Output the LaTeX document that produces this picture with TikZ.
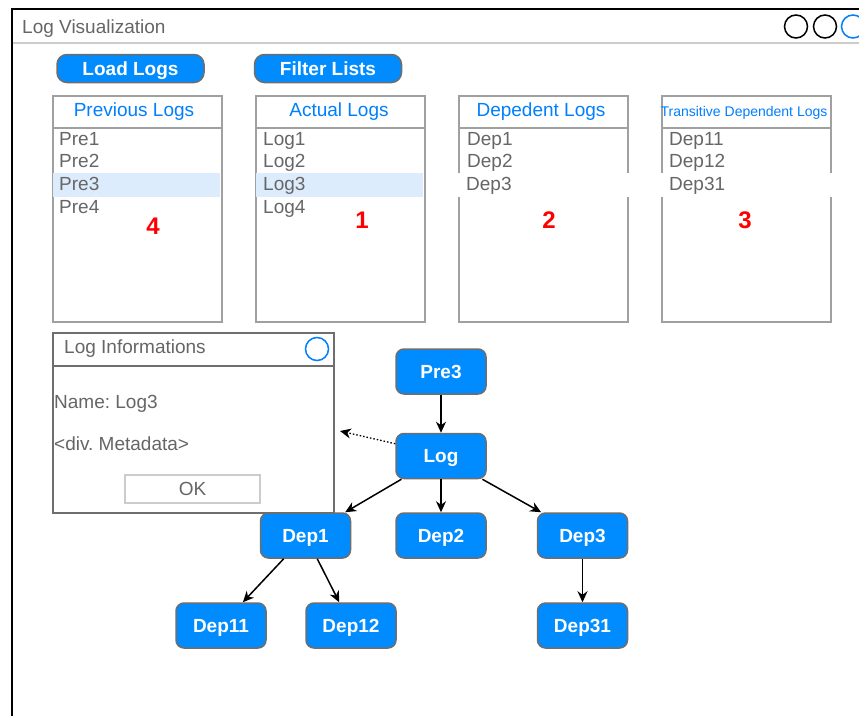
\documentclass[tikz,border=0pt]{standalone}
\usepackage{fontspec}
\setmainfont{Liberation Sans}
\usetikzlibrary{arrows.meta,calc}
\definecolor{nodeblue}{RGB}{0,140,255}
\definecolor{txtblue}{RGB}{0,127,255}
\definecolor{txtgray}{RGB}{102,102,102}
\definecolor{listgray}{RGB}{160,160,160}
\definecolor{dlggray}{RGB}{110,110,110}
\definecolor{hlblue}{RGB}{221,236,252}
\definecolor{sepgray}{RGB}{204,204,204}
\definecolor{numred}{RGB}{255,0,0}
\frenchspacing
\begin{document}
\begin{tikzpicture}[x=1pt,y=-1pt,
  txt/.style={inner sep=0pt, text height=13.6pt, text depth=0pt, text=txtgray, font=\fontsize{19}{22}\selectfont},
  btn/.style={draw=dlggray, line width=1.5pt, fill=nodeblue, rounded corners=10pt, text=white,
    font=\fontsize{19}{22}\selectfont\bfseries, minimum width=147pt, minimum height=28pt, inner sep=0pt,
    text height=13.6pt, text depth=0pt},
  listbox/.style={draw=listgray, line width=2pt, minimum width=169pt, minimum height=226pt, inner sep=0pt, anchor=north west},
  listhead/.style={inner sep=0pt, text height=13.6pt, text depth=0pt, text=txtblue, font=\fontsize{19}{22}\selectfont},
  num/.style={inner sep=0pt, text height=17pt, text depth=0pt, text=numred, font=\fontsize{24}{27}\selectfont\bfseries},
  gnode/.style={rectangle, rounded corners=8pt, draw=dlggray, line width=1.5pt, fill=nodeblue, text=white,
    font=\fontsize{19}{22}\selectfont\bfseries, minimum width=90pt, minimum height=45pt, inner sep=0pt,
    text height=13.6pt, text depth=0pt},
  conn/.style={line width=1.5pt, -{Stealth[length=11pt,width=10pt,inset=3.5pt]}},
  wincirc/.style={circle, draw, line width=1.5pt, minimum size=23pt, inner sep=0pt}
]
\useasboundingbox (0,0) rectangle (859,715);
\fill[white] (0,0) rectangle (859,715);

% window frame
\draw[black, line width=2pt] (861,9) -- (12,9) -- (12,717);
\draw[sepgray, line width=2pt] (13,43) -- (861,43);
\node[txt, anchor=west] (title) at (22,27) {Log Visualization};
\node[wincirc, draw=black] (c1) at (796,26.5) {};
\node[wincirc, draw=black] (c2) at (825,26.5) {};
\node[wincirc, draw=txtblue] (c3) at (853,26.5) {};

% buttons
\node[btn] (load) at (130.5,68.5) {Load Logs};
\node[btn] (filter) at (328,68.5) {Filter Lists};

% lists
\node[listbox] (prev) at (52,95) {};
\node[listbox] (act) at (255,95) {};
\node[listbox] (dep) at (458,95) {};
\node[listbox] (tra) at (661,95) {};
\foreach \n in {prev,act,dep,tra}{
  \draw[listgray, line width=2pt] ($(\n.north west)+(0,33)$) -- ($(\n.north east)+(0,33)$);
}
% highlighted rows
\fill[hlblue] (53,173) rectangle (220,196.5);
\fill[hlblue] (256,173) rectangle (423,196.5);
\fill[white] (456,173) rectangle (630,196.5);
\fill[white] (659,173) rectangle (833,196.5);

\node[listhead] (prevh) at (134,110) {Previous Logs};
\node[listhead] (acth) at (339,110) {Actual Logs};
\node[listhead] (deph) at (541,110) {Depedent Logs};
\node[listhead, text height=10pt, font=\fontsize{14}{16}\selectfont] (trah) at (744,111.5) {Transitive Dependent Logs};

\node[txt, anchor=west] (p1) at (59,139) {Pre1};
\node[txt, anchor=west] (p2) at (59,160.3) {Pre2};
\node[txt, anchor=west] (p3) at (59,183.7) {Pre3};
\node[txt, anchor=west] (p4) at (59,206.3) {Pre4};

\node[txt, anchor=west] (l1) at (263,139) {Log1};
\node[txt, anchor=west] (l2) at (263,160.3) {Log2};
\node[txt, anchor=west] (l3) at (263,183.7) {Log3};
\node[txt, anchor=west] (l4) at (263,206.3) {Log4};

\node[txt, anchor=west] (d1) at (467,139) {Dep1};
\node[txt, anchor=west] (d2) at (467,160.3) {Dep2};
\node[txt, anchor=west] (d3) at (466,183.7) {Dep3};

\node[txt, anchor=west] (t1) at (669,139) {Dep11};
\node[txt, anchor=west] (t2) at (669,160.3) {Dep12};
\node[txt, anchor=west] (t3) at (669,183.7) {Dep31};

\node[num] (n4) at (153,226.3) {4};
\node[num] (n1) at (362,220) {1};
\node[num] (n2) at (549,220) {2};
\node[num] (n3) at (745,220) {3};

% dialog
\node[draw=dlggray, line width=2pt, minimum width=281pt, minimum height=180pt, inner sep=0pt, anchor=north west] (dlg) at (52,332) {};
\draw[dlggray, line width=2pt] ($(dlg.north west)+(0,34)$) -- ($(dlg.north east)+(0,34)$);
\node[txt, anchor=west] (dlgt) at (64,346.7) {Log Informations};
\node[wincirc, draw=txtblue] (dlgc) at (317,349) {};
\node[txt, anchor=west] (name) at (54,401.7) {Name: Log3};
\node[txt, anchor=west] (meta) at (54,443.5) {<div. Metadata>};
\node[txt, draw=sepgray, line width=2pt, minimum width=135pt, minimum height=28pt] (ok) at (192.5,489) {OK};

% graph
\node[gnode] (pre3) at (441,371.5) {Pre3};
\node[gnode] (log) at (441,456) {Log};
\node[gnode] (dep1) at (305.5,535.5) {Dep1};
\node[gnode] (dep2) at (441,535.5) {Dep2};
\node[gnode] (dep3) at (582.5,535.5) {Dep3};
\node[gnode] (dep11) at (221,625.5) {Dep11};
\node[gnode] (dep12) at (351,625.5) {Dep12};
\node[gnode] (dep31) at (582.5,625.5) {Dep31};

\draw[conn] (pre3) -- (log);
\draw[conn] (log) -- (dep1);
\draw[conn] (log) -- (dep2);
\draw[conn] (log) -- (dep3);
\draw[conn] (dep1) -- (dep11);
\draw[conn] (dep1) -- (dep12);
\draw[conn] (dep3) -- (dep31);
\coordinate (infoend) at (340,431);
\draw[conn, dotted, line width=1.3pt] (log.165) -- (infoend);
\end{tikzpicture}
\end{document}
